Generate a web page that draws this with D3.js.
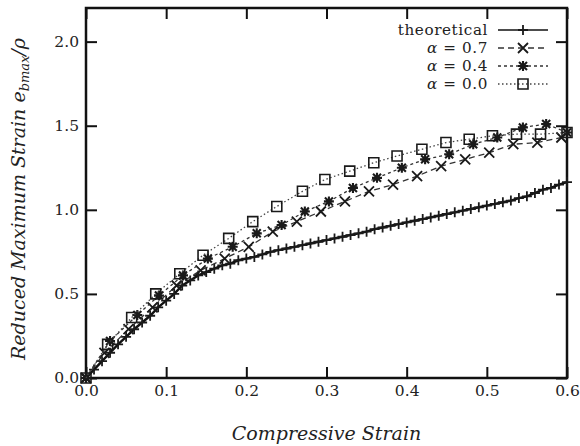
<!DOCTYPE html>
<html>
<head>
<meta charset="utf-8">
<script src="https://cdn.jsdelivr.net/npm/d3@7"></script>
<style>
  body { margin: 0; background: #fff; }
  svg text { font-family: "DejaVu Serif", serif; fill: #222; }
</style>
</head>
<body>
<div id="vis"></div>
<script>
const svgWidth = 580;
const svgHeight = 446;

// compressive strain (x) and reduced max strain (y) per series
const theoryX = [0.00, 0.01, 0.02, 0.03, 0.04, 0.05, 0.06, 0.07, 0.08, 0.09,
  0.10, 0.11, 0.12, 0.13, 0.14, 0.15, 0.16, 0.17, 0.18, 0.19,
  0.20, 0.21, 0.22, 0.23, 0.24, 0.25, 0.26, 0.27, 0.28, 0.29,
  0.30, 0.31, 0.32, 0.33, 0.34, 0.35, 0.36, 0.37, 0.38, 0.39,
  0.40, 0.41, 0.42, 0.43, 0.44, 0.45, 0.46, 0.47, 0.48, 0.49,
  0.50, 0.51, 0.52, 0.53, 0.54, 0.55, 0.56, 0.57, 0.58, 0.59, 0.60];
const theoryY = [0.00, 0.05, 0.10, 0.15, 0.20, 0.245, 0.29, 0.33, 0.37, 0.42,
  0.46, 0.50, 0.55, 0.58, 0.61, 0.63, 0.65, 0.67, 0.68, 0.70,
  0.71, 0.72, 0.735, 0.75, 0.76, 0.77, 0.78, 0.79, 0.80, 0.81,
  0.82, 0.83, 0.84, 0.85, 0.86, 0.87, 0.885, 0.895, 0.905, 0.915,
  0.925, 0.935, 0.945, 0.955, 0.965, 0.975, 0.985, 0.995, 1.005, 1.015,
  1.025, 1.035, 1.045, 1.055, 1.07, 1.08, 1.10, 1.12, 1.13, 1.15, 1.165];

const a07X = [0, 0.023, 0.053, 0.083, 0.113, 0.143, 0.173, 0.203, 0.233, 0.263, 0.293,
  0.323, 0.353, 0.383, 0.413, 0.443, 0.473, 0.503, 0.533, 0.563, 0.593];
const a07Y = [0, 0.15, 0.29, 0.42, 0.55, 0.64, 0.71, 0.78, 0.87, 0.93, 0.99,
  1.05, 1.11, 1.15, 1.20, 1.26, 1.30, 1.34, 1.39, 1.40, 1.43];

const a04X = [0, 0.03, 0.064, 0.091, 0.121, 0.152, 0.183, 0.213, 0.244, 0.273, 0.303,
  0.333, 0.363, 0.394, 0.423, 0.453, 0.483, 0.513, 0.545, 0.574, 0.6];
const a04Y = [0, 0.22, 0.375, 0.49, 0.61, 0.71, 0.78, 0.86, 0.91, 0.99, 1.05,
  1.13, 1.19, 1.25, 1.30, 1.33, 1.39, 1.43, 1.49, 1.51, 1.46];

const a00X = [0, 0.027, 0.057, 0.087, 0.117, 0.146, 0.178, 0.208, 0.238, 0.27, 0.298,
  0.329, 0.359, 0.388, 0.419, 0.449, 0.478, 0.507, 0.537, 0.567, 0.6];
const a00Y = [0, 0.20, 0.36, 0.50, 0.62, 0.73, 0.83, 0.93, 1.02, 1.11, 1.18,
  1.23, 1.28, 1.32, 1.36, 1.40, 1.42, 1.44, 1.45, 1.45, 1.46];

const xTicks = [0, 0.1, 0.2, 0.3, 0.4, 0.5, 0.6];
const yTicks = [0, 0.5, 1.0, 1.5, 2.0];
const legendAlphas = ['0.7', '0.4', '0.0'];

const PLOT = { left: 86, right: 567, top: 8, bottom: 378 };

const x = d3.scaleLinear().domain([0, 0.6]).range([PLOT.left, PLOT.right]);
const y = d3.scaleLinear().domain([0, 2.2]).range([PLOT.bottom, PLOT.top]);

const svg = d3.select('#vis').append('svg').attr('width', svgWidth).attr('height', svgHeight);

// axes, ticks pointing inward, mirrored on top/right
const TICK = 11;
const fmt = d3.format('.1f');
const axes = [
  { ax: d3.axisBottom(x).tickValues(xTicks).tickFormat(fmt), t: `translate(0,${PLOT.bottom})` },
  { ax: d3.axisTop(x).tickValues(xTicks).tickFormat(''), t: `translate(0,${PLOT.top})` },
  { ax: d3.axisLeft(y).tickValues(yTicks).tickFormat(fmt), t: `translate(${PLOT.left},0)` },
  { ax: d3.axisRight(y).tickValues(yTicks).tickFormat(''), t: `translate(${PLOT.right},0)` },
];
axes.forEach(({ ax, t }) => {
  const g = svg.append('g').attr('transform', t)
    .call(ax.tickSizeInner(-TICK).tickSizeOuter(0).tickPadding(7));
  g.select('.domain').remove();
  g.selectAll('line').attr('stroke', '#111').attr('stroke-width', 2);
  g.selectAll('text').attr('font-size', 15.5).attr('font-family', '"DejaVu Serif", serif').attr('fill', '#222');
});

svg.append('rect')
  .attr('x', PLOT.left).attr('y', PLOT.top)
  .attr('width', PLOT.right - PLOT.left).attr('height', PLOT.bottom - PLOT.top)
  .attr('fill', 'none').attr('stroke', '#111').attr('stroke-width', 2.5);

// marker shapes
const S = 5;
const markerPath = {
  plus: `M${-S},0H${S}M0,${-S}V${S}`,
  cross: `M${-S},${-S}L${S},${S}M${-S},${S}L${S},${-S}`,
  star: `M${-S},0H${S}M0,${-S}V${S}M-4,-4L4,4M-4,4L4,-4`,
  square: `M${-S},${-S}H${S}V${S}H${-S}Z`,
};

const series = [
  { xs: theoryX, ys: theoryY, dash: null, width: 2.4, color: '#111', marker: 'plus', mw: 1.8 },
  { xs: a07X, ys: a07Y, dash: '6,4', width: 1.3, color: '#333', marker: 'cross', mw: 1.8 },
  { xs: a04X, ys: a04Y, dash: '3,3', width: 1.3, color: '#333', marker: 'star', mw: 2.1 },
  { xs: a00X, ys: a00Y, dash: '1.5,2.5', width: 1.3, color: '#444', marker: 'square', mw: 1.6 },
];

const line = d3.line().x((d) => x(d[0])).y((d) => y(d[1]));

series.forEach((s) => {
  const pts = s.xs.map((v, i) => [v, s.ys[i]]);
  svg.append('path').datum(pts)
    .attr('fill', 'none').attr('stroke', s.color).attr('stroke-width', s.width)
    .attr('stroke-dasharray', s.dash).attr('d', line);
  svg.append('g').selectAll('path').data(pts).join('path')
    .attr('transform', (d) => `translate(${x(d[0])},${y(d[1])})`)
    .attr('d', markerPath[s.marker])
    .attr('fill', 'none').attr('stroke', '#1a1a1a').attr('stroke-width', s.mw);
});

// legend
const legend = svg.append('g');
const legRows = [30, 48, 66, 84];
const labels = ['theoretical'].concat(legendAlphas);
labels.forEach((lab, i) => {
  const s = series[i];
  const t = legend.append('text')
    .attr('x', 488).attr('y', legRows[i]).attr('dy', '0.35em')
    .attr('text-anchor', 'end').attr('font-size', 15.2).attr('letter-spacing', 0.6);
  if (i === 0) {
    t.text(lab);
  } else {
    t.append('tspan').attr('font-style', 'italic').text('α');
    t.append('tspan').text(` = ${lab}`);
  }
  legend.append('line')
    .attr('x1', 498).attr('x2', 548).attr('y1', legRows[i]).attr('y2', legRows[i])
    .attr('stroke', s.color).attr('stroke-width', Math.min(s.width, 1.6)).attr('stroke-dasharray', s.dash);
  legend.append('path')
    .attr('transform', `translate(523,${legRows[i]})`)
    .attr('d', markerPath[s.marker])
    .attr('fill', 'none').attr('stroke', '#1a1a1a').attr('stroke-width', s.mw);
});

// axis titles
svg.append('text')
  .attr('x', (PLOT.left + PLOT.right) / 2).attr('y', 440)
  .attr('text-anchor', 'middle').attr('font-size', 19).attr('font-style', 'italic')
  .text('Compressive Strain');

const yt = svg.append('text')
  .attr('transform', `translate(25,${(PLOT.top + PLOT.bottom) / 2 + 6}) rotate(-90)`)
  .attr('text-anchor', 'middle').attr('font-size', 19).attr('font-style', 'italic');
yt.append('tspan').text('Reduced Maximum Strain e');
yt.append('tspan').attr('font-size', 13).attr('dy', 4).text('bmax');
yt.append('tspan').attr('dy', -4).text('/ρ');
</script>
</body>
</html>
